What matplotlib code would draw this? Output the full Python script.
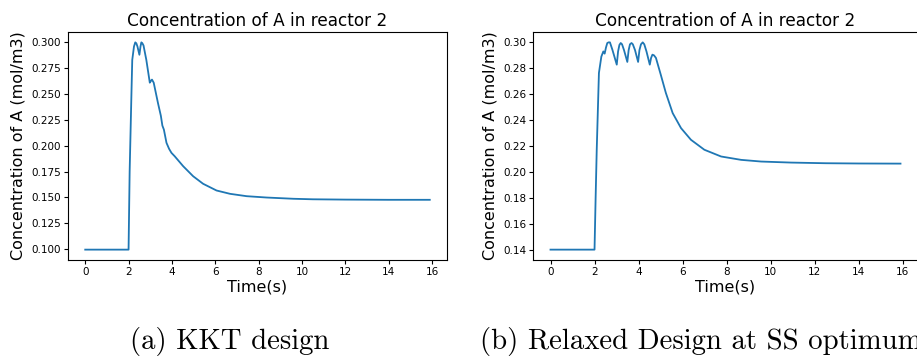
import matplotlib
matplotlib.use('Agg')

import matplotlib.pyplot as plt
from matplotlib.ticker import MultipleLocator


# DATA
time_kkt = [0.0, 2.0, 2.02, 2.05, 2.13, 2.17, 2.25, 2.31, 2.36, 2.41, 2.50,
            2.55, 2.59, 2.64, 2.69, 2.82, 2.98, 3.04, 3.08, 3.16, 3.36, 3.49,
            3.56, 3.63, 3.75, 3.87, 3.98, 4.13, 4.52, 4.98, 5.44, 6.06, 6.68,
            7.45, 8.38, 9.61, 10.5, 12.0, 14.0, 15.9]
conc_kkt = [0.0995, 0.0995, 0.13, 0.175, 0.248, 0.283, 0.296, 0.300, 0.299,
            0.296, 0.288, 0.296, 0.300, 0.299, 0.297, 0.283, 0.261, 0.263,
            0.264, 0.261, 0.241, 0.229, 0.2195, 0.2156, 0.2028, 0.197, 0.1931,
            0.1898, 0.1802, 0.1705, 0.1632, 0.1567, 0.1535, 0.1512, 0.1499,
            0.1487, 0.1482, 0.1479, 0.1477, 0.1477]

time_relaxed = [0.0, 2.0, 2.05, 2.1, 2.2, 2.31, 2.40, 2.46, 2.52, 2.58, 2.64,
                2.70, 2.81, 2.92, 3.01, 3.07, 3.13, 3.19, 3.25, 3.34, 3.49,
                3.55, 3.61, 3.68, 3.74, 3.84, 3.98, 4.04, 4.11, 4.19, 4.26,
                4.36, 4.51, 4.57, 4.63, 4.70, 4.79, 5.01, 5.24, 5.55, 5.93,
                6.38, 6.99, 7.75, 8.66, 9.57, 10.94, 12.5, 14.0, 15.9]
conc_relaxed = [0.140, 0.140, 0.180, 0.217, 0.2764, 0.289, 0.293, 0.2913,
                0.296, 0.2995, 0.300, 0.300, 0.2944, 0.288, 0.2828, 0.293,
                0.298, 0.2995, 0.2985, 0.294, 0.2849, 0.294, 0.2985, 0.2995,
                0.2985, 0.294, 0.2849, 0.294, 0.2985, 0.300, 0.2985, 0.293,
                0.2828, 0.288, 0.2905, 0.2900, 0.288, 0.2750, 0.2610, 0.2454,
                0.2338, 0.2248, 0.2171, 0.2119, 0.2093, 0.2080, 0.2072, 0.2067,
                0.2065, 0.2064]

TITLE    = "Concentration of A in reactor 2"
XLABEL   = "Time(s)"
YLABEL   = "Concentration of A (mol/m3)"
CAPTIONS = ["(a) KKT design", "(b) Relaxed Design at SS optimum"]

LINE_COLOUR = "#1f77b4"
W, H = 917, 356


def style_axis(ax, y_step):
    ax.set_title(TITLE, fontsize=12.2, pad=4)
    ax.set_xlabel(XLABEL, fontsize=11.5, labelpad=2)
    ax.set_ylabel(YLABEL, fontsize=11.5, labelpad=4)
    ax.xaxis.set_major_locator(MultipleLocator(2))
    ax.yaxis.set_major_locator(MultipleLocator(y_step))
    ax.tick_params(labelsize=7.5, length=3, width=0.8, pad=2)
    for spine in ax.spines.values():
        spine.set_linewidth(0.8)


fig = plt.figure(figsize=(W / 100, H / 100), dpi=100)

# left panel
ax1 = fig.add_axes([68 / W, (H - 260) / H, 379 / W, 228 / H])
ax1.plot(time_kkt, conc_kkt, color=LINE_COLOUR, linewidth=1.3)
style_axis(ax1, 0.025)

# right panel (runs past the right edge, as in the reference)
ax2 = fig.add_axes([533 / W, (H - 260) / H, 385 / W, 228 / H])
ax2.plot(time_relaxed, conc_relaxed, color=LINE_COLOUR, linewidth=1.3)
style_axis(ax2, 0.02)

# sub-figure captions
fig.text(230 / W, (H - 349) / H, CAPTIONS[0], family="cmr10",
         fontsize=20.7, ha="center", va="baseline")
fig.text(480 / W, (H - 349) / H, CAPTIONS[1], family="cmr10",
         fontsize=20.7, ha="left", va="baseline")

plt.savefig("out.png", dpi=100)
plt.close()
